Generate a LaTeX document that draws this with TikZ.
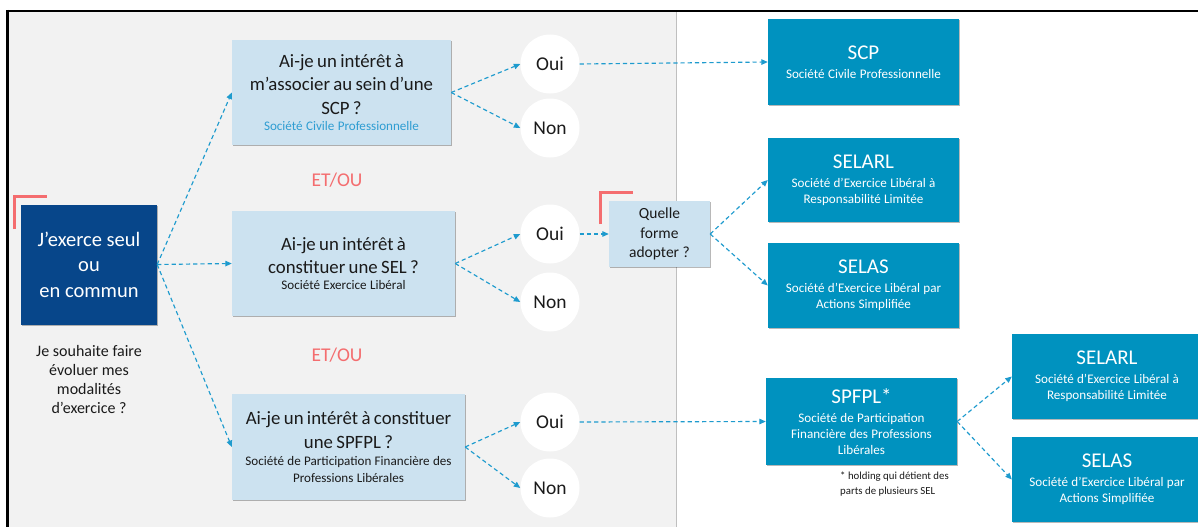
\documentclass[tikz,border=0pt]{standalone}
\usepackage{fontspec}
\setmainfont{Carlito}
\usetikzlibrary{arrows.meta,shadows}
\definecolor{darkb}{HTML}{07468A}
\definecolor{tealb}{HTML}{0092BF}
\definecolor{lightb}{HTML}{CCE2F0}
\definecolor{bggray}{HTML}{F2F2F2}
\definecolor{sepgray}{HTML}{BFBFBF}
\definecolor{arrowc}{HTML}{1E9BCE}
\definecolor{salmon}{HTML}{F46D6F}
\definecolor{subblue}{HTML}{2E9DD2}
\definecolor{txt}{HTML}{1A1A1A}
\newcommand{\bigq}{\fontsize{18.8}{23.3}\selectfont}
\newcommand{\subq}{\fontsize{13.1}{16.3}\selectfont}
\newcommand{\titr}{\fontsize{21}{22}\selectfont}
\begin{document}
\begin{tikzpicture}[x=1pt,y=-1pt,
  shd/.style={drop shadow={opacity=0.28,shadow xshift=1.2pt,shadow yshift=-1.2pt,fill=black}},
  jbox/.style={fill=darkb,shd,text=white,inner sep=0pt,align=center},
  qbox/.style={fill=lightb,shd,text=txt,inner sep=0pt,align=center},
  rbox/.style={fill=tealb,shd,text=white,inner sep=0pt,align=center,minimum width=191pt},
  circ/.style={circle,fill=white,minimum size=59pt,inner sep=0pt,text=txt,font=\fontsize{19.5}{22}\selectfont},
  etou/.style={text=salmon,font=\fontsize{19.5}{22}\selectfont},
  conn/.style={draw=arrowc,line width=1.15pt,dash pattern=on 4.2pt off 3pt,-{Triangle[length=6.5pt,width=5.5pt]}},
  brk/.style={draw=salmon,line width=3pt}
  ]
\useasboundingbox (0,0) rectangle (1198,527);
% background and frame
\fill[white] (0,0) rectangle (1198,527);
\fill[bggray] (8,11) rectangle (676,527);
\draw[sepgray,line width=1pt] (676,12) -- (676,527);
\draw[black,line width=2.6pt] (6,11) -- (1200,11);
\draw[black,line width=3pt] (7.5,10) -- (7.5,527);

% left box
\node[jbox,minimum width=136pt,minimum height=120pt,font=\fontsize{20.5}{25.5}\selectfont] (J) at (89,264.5) {J’exerce seul\\ou\\en commun};
\draw[brk] (14.5,229) |- (47,196.5);
\node[text=txt,align=center,font=\fontsize{16}{19}\selectfont] (Jq) at (89,379) {Je souhaite faire\\évoluer mes\\modalités\\d’exercice ?};

% question boxes
\node[qbox,minimum width=219pt,minimum height=105pt,text width=217pt] (Q1) at (341.5,92.5)
  {\bigq Ai-je un intérêt à\\m’associer au sein d’une\\SCP ?\par\subq\color{subblue}Société Civile Professionnelle\par};
\node[qbox,minimum width=223pt,minimum height=105pt,text width=221pt] (Q2) at (343.5,263.5)
  {\bigq Ai-je un intérêt à\\constituer une SEL ?\par\subq Société Exercice Libéral\par};
\node[qbox,minimum width=233pt,minimum height=106pt,text width=231pt] (Q3) at (348.5,447)
  {\bigq Ai-je un intérêt à constituer\\une SPFPL ?\par\vspace{1.5pt}\subq Société de Participation Financière des\\Professions Libérales\par};

\node[etou] (E1) at (337,180) {ET/OU};
\node[etou] (E2) at (337,355) {ET/OU};

% circles
\node[circ] (O1) at (550,64) {Oui};
\node[circ] (N1) at (550,128) {Non};
\node[circ] (O2) at (550,234) {Oui};
\node[circ] (N2) at (550,302) {Non};
\node[circ] (O3) at (550,422) {Oui};
\node[circ] (N3) at (550,488) {Non};

% quelle forme
\node[qbox,minimum width=101pt,minimum height=66pt,font=\fontsize{15.5}{19.5}\selectfont] (QF) at (659.5,234) {Quelle\\forme\\adopter ?};
\draw[brk] (600.5,224) |- (633,192.5);

% right boxes
\node[rbox,minimum height=86pt,text width=189pt] (SCP) at (863.5,62)
  {\titr SCP\par\vspace{2.5pt}\subq Société Civile Professionnelle\par};
\node[rbox,minimum height=84pt,text width=189pt] (SELARL) at (863.5,180)
  {\titr SELARL\par\vspace{2.5pt}\subq Société d\symbol{39}Exercice Libéral à\\Responsabilité Limitée\par};
\node[rbox,minimum height=85pt,text width=189pt] (SELAS) at (863.5,285.5)
  {\titr SELAS\par\vspace{2.5pt}\subq Société d’Exercice Libéral par\\Actions Simplifiée\par};
\node[rbox,minimum height=87pt,text width=189pt] (SPFPL) at (861.5,421.5)
  {\titr SPFPL*\par\vspace{2.5pt}\subq Société de Participation\\Financière des Professions\\Libérales\par};
\node[rbox,minimum width=190pt,minimum height=85pt,text width=186pt] (SELARL2) at (1107,376.5)
  {\titr SELARL\par\vspace{2.5pt}\subq Société d\symbol{39}Exercice Libéral à\\Responsabilité Limitée\par};
\node[rbox,minimum width=190pt,minimum height=85pt,text width=186pt] (SELAS2) at (1107,479.5)
  {\titr SELAS\par\vspace{2.5pt}\subq Société d’Exercice Libéral par\\Actions Simplifiée\par};

\node[anchor=north west,align=left,text=txt,inner sep=0pt,font=\fontsize{10.8}{15}\selectfont] (FN) at (840,472)
  {* holding qui détient des\\parts de plusieurs SEL};

% connectors
\draw[conn] (J.east) -- (Q1.west);
\draw[conn] (J.east) -- (Q2.west);
\draw[conn] (J.east) -- (Q3.west);
\draw[conn] (Q1.east) -- (O1.west);
\draw[conn] (Q1.east) -- (N1.west);
\draw[conn] (Q2.east) -- (O2.west);
\draw[conn] (Q2.east) -- (N2.west);
\draw[conn] (Q3.east) -- (O3.west);
\draw[conn] (Q3.east) -- (N3.west);
\draw[conn] (O1.east) -- (SCP.west);
\draw[conn] (O2.east) -- (QF.west);
\draw[conn] (QF.east) -- (SELARL.west);
\draw[conn] (QF.east) -- (SELAS.west);
\draw[conn] (O3.east) -- (SPFPL.west);
\draw[conn] (SPFPL.east) -- (SELARL2.west);
\draw[conn] (SPFPL.east) -- (SELAS2.west);
\end{tikzpicture}
\end{document}
